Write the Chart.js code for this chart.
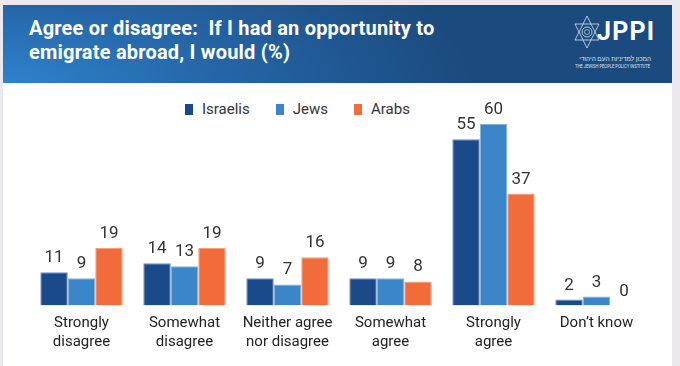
<!DOCTYPE html>
<html lang="en">
<head>
<meta charset="UTF-8">
<title>Emigrate abroad</title>
<script src="https://cdn.jsdelivr.net/npm/chart.js"></script>
<style>
    body { margin: 0; width: 680px; height: 366px; overflow: hidden; background: #ebe9ee; font-family: Roboto, sans-serif; }
    #card { position: absolute; left: 3px; top: 5px; width: 669px; height: 361px; background: #fff; }
    #header { position: absolute; left: 0; top: 0; width: 669px; height: 78px;
        background: radial-gradient(ellipse 470px 170px at 0% 100%, #2f82cc 0%, #2566a8 45%, rgba(27,75,128,0) 100%), #1b4a7e; }
    #title { position: absolute; left: 26px; top: 11px; color: #fff; font-weight: 700; font-size: 20px; letter-spacing: 0.2px; line-height: 24px; }
    #logo-star { position: absolute; left: 571px; top: 10px; }
    #logo-name { position: absolute; left: 594px; top: 12px; color: #fff; font-weight: 700; font-size: 25px; letter-spacing: 1.2px; }
    #logo-he { position: absolute; left: 572px; top: 49px; width: 76px; text-align: right; white-space: nowrap; color: #dfe6ef; font-size: 6.4px; font-family: "Noto Sans", sans-serif; }
    #logo-en { position: absolute; left: 572px; top: 58px; color: #dfe6ef; font-size: 5px; white-space: nowrap; transform-origin: 0 0; transform: scaleX(0.82); }
    #legend { position: absolute; left: 185px; top: 100px; display: flex; gap: 26px; font-size: 15px; color: #333; }
    .item { display: flex; align-items: center; height: 18px; }
    .item span { display: inline-block; width: 8px; height: 11px; margin-right: 9px; }
    #wrap { position: absolute; left: 0; top: 83px; }
</style>
</head>
<body>
<div id="card">
    <div id="header">
        <div id="title">Agree or disagree:&nbsp; If I had an opportunity to<br>emigrate abroad, I would (%)</div>
        <svg id="logo-star" width="26" height="34" viewBox="0 0 26 34">
            <polygon points="13,1 25,25 1,25" fill="none" stroke="#dde4ee" stroke-width="0.8"/>
            <polygon points="13,33 25,9 1,9" fill="none" stroke="#dde4ee" stroke-width="0.8"/>
            <circle cx="13" cy="17" r="5" fill="none" stroke="#dde4ee" stroke-width="0.8"/>
            <circle cx="13" cy="17" r="2.5" fill="none" stroke="#dde4ee" stroke-width="0.6"/>
        </svg>
        <div id="logo-name">JPPI</div>
        <div id="logo-he" dir="rtl">המכון למדיניות העם היהודי</div>
        <div id="logo-en">THE JEWISH PEOPLE POLICY INSTITUTE</div>
    </div>
</div>
<div id="legend"></div>
<div id="wrap"><canvas id="chart" width="680" height="283"></canvas></div>
<script>
const categories = [["Strongly", "disagree"], ["Somewhat", "disagree"], ["Neither agree", "nor disagree"],
    ["Somewhat", "agree"], ["Strongly", "agree"], "Don\u2019t know"];
const israelis = [11, 14, 9, 9, 55, 2];
const jews = [9, 13, 7, 9, 60, 3];
const arabs = [19, 19, 16, 8, 37, 0];
const seriesNames = ["Israelis", "Jews", "Arabs"];
const seriesColors = ["#1b4a8b", "#3b86c8", "#f26c3b"];
const borderColors = ["#6d8fbf", "#80b1dc", "#f6a07f"];

// legend
let legend = document.getElementById("legend");
seriesNames.forEach((n, i) => {
    legend.innerHTML += `<div class="item"><span style="background:${seriesColors[i]}"></span>${n}</div>`;
});

// numbers above each bar
const valueLabels = {
    id: 'valueLabels',
    afterDatasetsDraw(chart) {
        const ctx = chart.ctx;
        ctx.save();
        ctx.font = '17px Roboto';
        ctx.fillStyle = '#333';
        ctx.textAlign = 'center';
        ctx.textBaseline = 'alphabetic';
        chart.data.datasets.forEach((ds, i) => {
            chart.getDatasetMeta(i).data.forEach((bar, j) => {
                ctx.fillText(ds.data[j], bar.x, bar.y - 10);
            });
        });
        ctx.restore();
    }
};

const seriesData = [israelis, jews, arabs];
new Chart(document.getElementById("chart"), {
    type: 'bar',
    data: {
        labels: categories,
        datasets: seriesNames.map((n, i) => ({
            label: n,
            data: seriesData[i],
            backgroundColor: seriesColors[i],
            borderColor: borderColors[i],
            borderWidth: 1,
            categoryPercentage: 0.8,
            barPercentage: 1.0
        }))
    },
    options: {
        responsive: false,
        animation: false,
        layout: { padding: { left: 30, right: 32, top: 41, bottom: 6 } },
        plugins: { legend: { display: false }, tooltip: { enabled: false } },
        scales: {
            x: {
                grid: { display: false, drawTicks: false },
                border: { display: false },
                ticks: { color: '#222', font: { family: 'Roboto', size: 15, lineHeight: 1.28 }, padding: 8, maxRotation: 0, autoSkip: false }
            },
            y: { display: false, min: 0, max: 60 }
        }
    },
    plugins: [valueLabels]
});
</script>
</body>
</html>
